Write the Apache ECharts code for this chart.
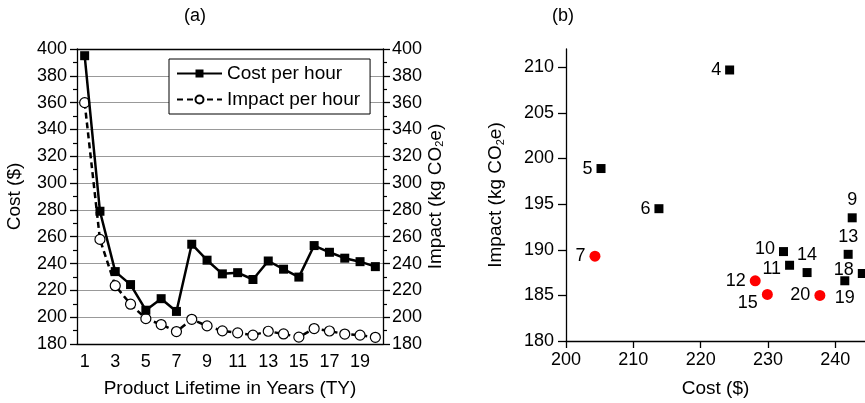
<!DOCTYPE html>
<html>
<head>
<meta charset="utf-8">
<title>Cost and impact per hour</title>
<script src="https://cdn.jsdelivr.net/npm/echarts@6/dist/echarts.min.js"></script>
<style>
    html, body { margin: 0; padding: 0; background: #fff; }
    #chart-main { width: 865px; height: 403px; }
</style>
</head>
<body>
<div id="chart-main"></div>
<script>
'use strict';

// product lifetime in years (TY)
var lifetimes = [1, 2, 3, 4, 5, 6, 7, 8, 9, 10, 11, 12, 13, 14, 15, 16, 17, 18, 19, 20];
// cost per hour ($)
var costPerHour = [395, 279, 234, 224.3, 205.2, 213.8, 204.3, 254.4, 242.5, 232.3,
                   233.2, 228.1, 241.9, 235.8, 229.9, 253.4, 248.4, 244.0, 241.4, 237.7];
// impact per hour (kg CO2e)
var impactPerHour = [360, 258, 223.5, 209.7, 198.9, 194.5, 189.3, 198.4, 193.5, 189.8,
                     188.3, 186.6, 189.5, 187.5, 185.1, 191.5, 189.7, 187.4, 186.6, 185.0];
// lifetimes drawn as red dots in (b)
var highlighted = [7, 12, 15, 20];

var costTicks = [200, 210, 220, 230, 240];
var impactTicks = [180, 185, 190, 195, 200, 205, 210];

var fontName = '"Liberation Sans", Arial, sans-serif';

// where the lifetime label sits next to each point in (b)
var labelPlace = {
    9: {position: 'top'},
    10: {position: 'left', offset: [0, -3]},
    11: {position: 'left', offset: [0, 4]},
    13: {position: 'top'},
    14: {position: 'top'},
    15: {position: 'left', offset: [0, 9]},
    18: {position: 'left', offset: [0, -3]},
    19: {position: 'bottom'}
};

function $extend(base, extra) {
    var out = {};
    var k;
    for (k in base) out[k] = base[k];
    for (k in extra) out[k] = extra[k];
    return out;
}

function scatterData(red) {
    var out = [];
    for (var i = 0; i < lifetimes.length; i++) {
        var ty = lifetimes[i];
        if (impactPerHour[i] > 212 || costPerHour[i] > 246) continue;
        if ((highlighted.indexOf(ty) >= 0) !== red) continue;
        var place = labelPlace[ty] || {position: 'left'};
        out.push({
            value: [costPerHour[i], impactPerHour[i], ty],
            label: {position: place.position, offset: place.offset || [0, 0]}
        });
    }
    return out;
}

var tickText = {color: '#000', fontSize: 18, fontFamily: fontName};
var nameText = {
    color: '#000', fontSize: 19, fontFamily: fontName,
    rich: {
        s: {fontSize: 11, fontFamily: fontName, color: '#000', verticalAlign: 'bottom', padding: [9, 0, 0, 0]}
    }
};
var blackLine = {lineStyle: {color: '#000', width: 1.3}};
var pointLabel = {
    show: true, distance: 4, color: '#000', fontSize: 18, fontFamily: fontName,
    formatter: function (p) { return p.value[2]; }
};

var option = {
    animation: false,
    backgroundColor: '#fff',
    textStyle: {fontFamily: fontName},
    title: [
        {text: '(a)', left: 184, top: 7, padding: 0, textStyle: {fontSize: 18, fontWeight: 'normal', color: '#000', fontFamily: fontName}},
        {text: '(b)', left: 552, top: 7, padding: 0, textStyle: {fontSize: 18, fontWeight: 'normal', color: '#000', fontFamily: fontName}}
    ],
    legend: {
        data: ['Cost per hour', 'Impact per hour'],
        orient: 'vertical',
        left: 169,
        top: 59,
        itemWidth: 45,
        itemHeight: 10,
        itemGap: 7,
        padding: [5, 10, 5, 7],
        borderColor: '#000',
        borderWidth: 1,
        borderRadius: 0,
        backgroundColor: '#fff',
        textStyle: {color: '#000', fontSize: 19, fontFamily: fontName}
    },
    grid: [
        {left: 77, right: 482, top: 49, bottom: 59},
        {left: 566, right: 0, top: 49, bottom: 59}
    ],
    xAxis: [
        {
            gridIndex: 0, type: 'category', data: lifetimes,
            name: 'Product Lifetime in Years (TY)', nameLocation: 'middle', nameGap: 35,
            nameTextStyle: nameText,
            axisLine: blackLine,
            axisTick: {interval: 0, alignWithLabel: true, length: 6, lineStyle: {color: '#000', width: 1.3}},
            axisLabel: $extend(tickText, {interval: 1, margin: 9}),
            splitLine: {show: false}
        },
        {
            gridIndex: 0, type: 'category', data: lifetimes, position: 'top',
            axisLine: blackLine,
            axisTick: {interval: 0, alignWithLabel: true, inside: true, length: 6, lineStyle: {color: '#000', width: 1.3}},
            axisLabel: {show: false},
            splitLine: {show: false}
        },
        {
            gridIndex: 1, type: 'value', min: 200, max: 244.4, interval: 10,
            name: 'Cost ($)', nameLocation: 'middle', nameGap: 38,
            nameTextStyle: nameText,
            axisLine: blackLine,
            axisTick: {length: 7, customValues: costTicks, lineStyle: {color: '#000', width: 1.3}},
            axisLabel: $extend(tickText, {customValues: costTicks, margin: 10}),
            splitLine: {show: false}
        }
    ],
    yAxis: [
        {
            gridIndex: 0, type: 'value', min: 180, max: 400, interval: 20,
            name: 'Cost ($)', nameLocation: 'middle', nameGap: 53, nameRotate: 90,
            nameTextStyle: nameText,
            axisLine: {show: true, lineStyle: {color: '#000', width: 1.3}},
            axisTick: {show: true, length: 7, lineStyle: {color: '#000', width: 1.3}},
            minorTick: {show: true, splitNumber: 2, length: 4, lineStyle: {color: '#000', width: 1.2}},
            axisLabel: $extend(tickText, {margin: 10}),
            splitLine: {show: true, lineStyle: {color: '#999', width: 1}}
        },
        {
            gridIndex: 0, type: 'value', min: 180, max: 400, interval: 20, position: 'right',
            name: 'Impact (kg CO{s|2}e)', nameLocation: 'middle', nameGap: 42, nameRotate: 90,
            nameTextStyle: nameText,
            axisLine: {show: true, lineStyle: {color: '#000', width: 1.3}},
            axisTick: {show: true, length: 7, lineStyle: {color: '#000', width: 1.3}},
            minorTick: {show: true, splitNumber: 2, length: 4, lineStyle: {color: '#000', width: 1.2}},
            axisLabel: $extend(tickText, {margin: 9}),
            splitLine: {show: false}
        },
        {
            gridIndex: 1, type: 'value', min: 180, max: 212, interval: 5,
            name: 'Impact (kg CO{s|2}e)', nameLocation: 'middle', nameGap: 60, nameRotate: 90,
            nameTextStyle: nameText,
            axisLine: {show: true, lineStyle: {color: '#000', width: 1.3}},
            axisTick: {show: true, length: 8, customValues: impactTicks, lineStyle: {color: '#000', width: 1.3}},
            axisLabel: $extend(tickText, {customValues: impactTicks, margin: 12}),
            splitLine: {show: false}
        }
    ],
    series: [
        {
            name: 'Cost per hour', type: 'line',
            xAxisIndex: 0, yAxisIndex: 0,
            data: costPerHour,
            symbol: 'rect', symbolSize: 9,
            itemStyle: {color: '#000'},
            lineStyle: {color: '#000', width: 2.5},
            z: 4
        },
        {
            name: 'Impact per hour', type: 'line',
            xAxisIndex: 0, yAxisIndex: 1,
            data: impactPerHour,
            symbol: 'circle', symbolSize: 10,
            itemStyle: {color: '#fff', borderColor: '#000', borderWidth: 1.2},
            lineStyle: {color: '#000', width: 2.5, type: [6, 4]},
            z: 3
        },
        {
            name: 'Other lifetimes', type: 'scatter',
            xAxisIndex: 2, yAxisIndex: 2,
            data: scatterData(false),
            symbol: 'rect', symbolSize: 9,
            clip: false,
            itemStyle: {color: '#000', opacity: 1},
            label: pointLabel
        },
        {
            name: 'Highlighted lifetimes', type: 'scatter',
            xAxisIndex: 2, yAxisIndex: 2,
            data: scatterData(true),
            symbol: 'circle', symbolSize: 11,
            clip: false,
            itemStyle: {color: '#ff0000', opacity: 1},
            label: pointLabel
        }
    ]
};

var myChart = echarts.init(document.getElementById('chart-main'), null, {renderer: 'canvas'});
myChart.setOption(option);
</script>
</body>
</html>
